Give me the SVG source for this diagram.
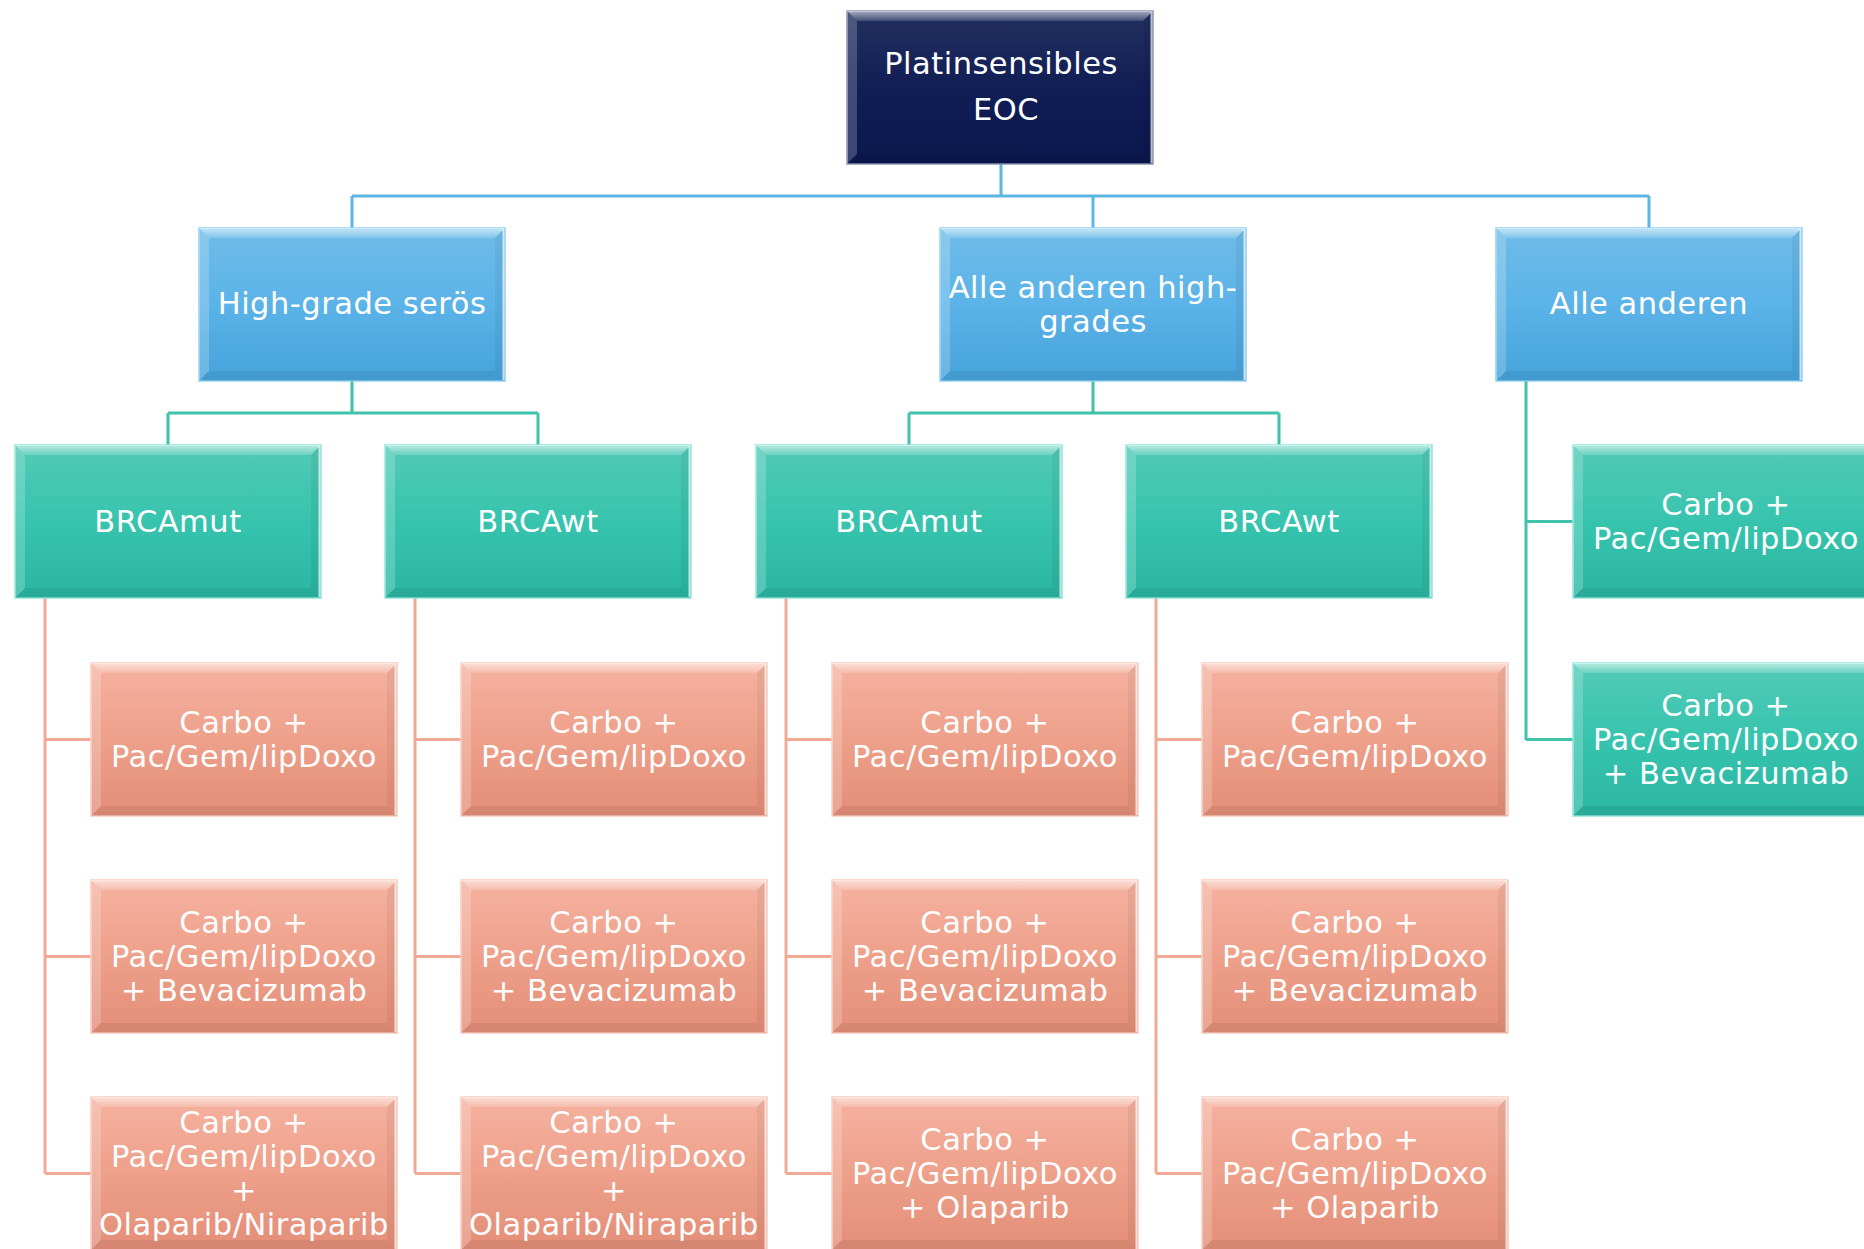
<svg xmlns="http://www.w3.org/2000/svg" xmlns:xlink="http://www.w3.org/1999/xlink" width="1864" height="1249" viewBox="0 0 1864 1249">
<defs>
<linearGradient id="gNavy" x1="0" y1="0" x2="0" y2="1"><stop offset="0" stop-color="#22305f"/><stop offset="0.5" stop-color="#111e55"/><stop offset="1" stop-color="#0b184e"/></linearGradient>
<linearGradient id="gBlue" x1="0" y1="0" x2="0" y2="1"><stop offset="0" stop-color="#6fbce8"/><stop offset="0.5" stop-color="#5bb3e8"/><stop offset="1" stop-color="#46a3db"/></linearGradient>
<linearGradient id="gGreen" x1="0" y1="0" x2="0" y2="1"><stop offset="0" stop-color="#52cab7"/><stop offset="0.5" stop-color="#37c4ae"/><stop offset="1" stop-color="#2ab6a2"/></linearGradient>
<linearGradient id="gSalmon" x1="0" y1="0" x2="0" y2="1"><stop offset="0" stop-color="#f5b2a0"/><stop offset="0.5" stop-color="#eea08a"/><stop offset="1" stop-color="#e38e78"/></linearGradient>
<linearGradient id="gTop" x1="0" y1="0" x2="0" y2="1"><stop offset="0" stop-color="#ffffff" stop-opacity="0.6"/><stop offset="1" stop-color="#ffffff" stop-opacity="0.15"/></linearGradient>
<g id="bevel">
<polygon points="0,0 306,0 296,10 10,10" fill="url(#gTop)"/>
<polygon points="0,0 10,10 10,143 0,153" fill="#ffffff" fill-opacity="0.2"/>
<polygon points="306,0 306,153 296,143 296,10" fill="#000000" fill-opacity="0.05"/>
<polygon points="0,153 10,143 296,143 306,153" fill="#000000" fill-opacity="0.06"/>
<line x1="304.5" y1="1" x2="304.5" y2="152" stroke="#ffffff" stroke-opacity="0.7" stroke-width="2"/>
</g>
</defs>
<style>
.t{font-family:"DejaVu Sans","Liberation Sans",sans-serif;font-size:30.5px;fill:#ffffff;text-anchor:middle;letter-spacing:0.5px}
.navy{fill:url(#gNavy);stroke:#8d96b3;stroke-width:1.5}
.blue{fill:url(#gBlue);stroke:#92d2f4;stroke-width:1.5}
.green{fill:url(#gGreen);stroke:#8fe8dc;stroke-width:1.5}
.salmon{fill:url(#gSalmon);stroke:#f9cbbd;stroke-width:1.5}
.cb{fill:none;stroke:#5cb5e3;stroke-width:3}
.cg{fill:none;stroke:#41c2aa;stroke-width:3}
.cs{fill:none;stroke:#f2a994;stroke-width:3}
</style>
<rect width="1864" height="1249" fill="#ffffff"/>
<g id="connectors">
<path class="cb" d="M1001,164 V196 M352,196 H1649 M352,196 V228 M1093,196 V228 M1649,196 V228"/>
<path class="cg" d="M352,381 V413 M168,413 H538 M168,413 V445 M538,413 V445"/>
<path class="cg" d="M1093,381 V413 M909,413 H1279 M909,413 V445 M1279,413 V445"/>
<path class="cg" d="M1526,381 V740 M1526,521.5 H1573 M1526,739.5 H1573"/>
<path class="cs" d="M45,598 V1173.5 M45,739.5 H91 M45,956.5 H91 M45,1173.5 H91"/>
<path class="cs" d="M415,598 V1173.5 M415,739.5 H461 M415,956.5 H461 M415,1173.5 H461"/>
<path class="cs" d="M786,598 V1173.5 M786,739.5 H832 M786,956.5 H832 M786,1173.5 H832"/>
<path class="cs" d="M1156,598 V1173.5 M1156,739.5 H1202 M1156,956.5 H1202 M1156,1173.5 H1202"/>
</g>
<g id="root" transform="translate(847,11)"><rect class="navy" width="306" height="153"/><use xlink:href="#bevel"/><text class="t" x="154" y="63">Platinsensibles</text><text class="t" x="159" y="109">EOC</text></g>
<g id="hgs" transform="translate(199,228)"><rect class="blue" width="306" height="153"/><use xlink:href="#bevel"/><text class="t" x="153" y="86">High-grade serös</text></g>
<g id="ahg" transform="translate(940,228)"><rect class="blue" width="306" height="153"/><use xlink:href="#bevel"/><text class="t" x="153" y="70">Alle anderen high-</text><text class="t" x="153" y="104">grades</text></g>
<g id="aa" transform="translate(1496,228)"><rect class="blue" width="306" height="153"/><use xlink:href="#bevel"/><text class="t" x="153" y="86">Alle anderen</text></g>
<g id="mut1" transform="translate(15,445)"><rect class="green" width="306" height="153"/><use xlink:href="#bevel"/><text class="t" x="153" y="87">BRCAmut</text></g>
<g id="wt1" transform="translate(385,445)"><rect class="green" width="306" height="153"/><use xlink:href="#bevel"/><text class="t" x="153" y="87">BRCAwt</text></g>
<g id="mut2" transform="translate(756,445)"><rect class="green" width="306" height="153"/><use xlink:href="#bevel"/><text class="t" x="153" y="87">BRCAmut</text></g>
<g id="wt2" transform="translate(1126,445)"><rect class="green" width="306" height="153"/><use xlink:href="#bevel"/><text class="t" x="153" y="87">BRCAwt</text></g>
<g id="aa1" transform="translate(1573,445)"><rect class="green" width="306" height="153"/><use xlink:href="#bevel"/><text class="t" x="153" y="70">Carbo +</text><text class="t" x="153" y="104">Pac/Gem/lipDoxo</text></g>
<g id="aa2" transform="translate(1573,663)"><rect class="green" width="306" height="153"/><use xlink:href="#bevel"/><text class="t" x="153" y="53">Carbo +</text><text class="t" x="153" y="87">Pac/Gem/lipDoxo</text><text class="t" x="153" y="121">+ Bevacizumab</text></g>
<g id="m1a" transform="translate(91,663)"><rect class="salmon" width="306" height="153"/><use xlink:href="#bevel"/><text class="t" x="153" y="70">Carbo +</text><text class="t" x="153" y="104">Pac/Gem/lipDoxo</text></g>
<g id="m1b" transform="translate(91,880)"><rect class="salmon" width="306" height="153"/><use xlink:href="#bevel"/><text class="t" x="153" y="53">Carbo +</text><text class="t" x="153" y="87">Pac/Gem/lipDoxo</text><text class="t" x="153" y="121">+ Bevacizumab</text></g>
<g id="m1c" transform="translate(91,1097)"><rect class="salmon" width="306" height="153"/><use xlink:href="#bevel"/><text class="t" x="153" y="36">Carbo +</text><text class="t" x="153" y="70">Pac/Gem/lipDoxo</text><text class="t" x="153" y="104">+</text><text class="t" x="153" y="138">Olaparib/Niraparib</text></g>
<g id="w1a" transform="translate(461,663)"><rect class="salmon" width="306" height="153"/><use xlink:href="#bevel"/><text class="t" x="153" y="70">Carbo +</text><text class="t" x="153" y="104">Pac/Gem/lipDoxo</text></g>
<g id="w1b" transform="translate(461,880)"><rect class="salmon" width="306" height="153"/><use xlink:href="#bevel"/><text class="t" x="153" y="53">Carbo +</text><text class="t" x="153" y="87">Pac/Gem/lipDoxo</text><text class="t" x="153" y="121">+ Bevacizumab</text></g>
<g id="w1c" transform="translate(461,1097)"><rect class="salmon" width="306" height="153"/><use xlink:href="#bevel"/><text class="t" x="153" y="36">Carbo +</text><text class="t" x="153" y="70">Pac/Gem/lipDoxo</text><text class="t" x="153" y="104">+</text><text class="t" x="153" y="138">Olaparib/Niraparib</text></g>
<g id="m2a" transform="translate(832,663)"><rect class="salmon" width="306" height="153"/><use xlink:href="#bevel"/><text class="t" x="153" y="70">Carbo +</text><text class="t" x="153" y="104">Pac/Gem/lipDoxo</text></g>
<g id="m2b" transform="translate(832,880)"><rect class="salmon" width="306" height="153"/><use xlink:href="#bevel"/><text class="t" x="153" y="53">Carbo +</text><text class="t" x="153" y="87">Pac/Gem/lipDoxo</text><text class="t" x="153" y="121">+ Bevacizumab</text></g>
<g id="m2c" transform="translate(832,1097)"><rect class="salmon" width="306" height="153"/><use xlink:href="#bevel"/><text class="t" x="153" y="53">Carbo +</text><text class="t" x="153" y="87">Pac/Gem/lipDoxo</text><text class="t" x="153" y="121">+ Olaparib</text></g>
<g id="w2a" transform="translate(1202,663)"><rect class="salmon" width="306" height="153"/><use xlink:href="#bevel"/><text class="t" x="153" y="70">Carbo +</text><text class="t" x="153" y="104">Pac/Gem/lipDoxo</text></g>
<g id="w2b" transform="translate(1202,880)"><rect class="salmon" width="306" height="153"/><use xlink:href="#bevel"/><text class="t" x="153" y="53">Carbo +</text><text class="t" x="153" y="87">Pac/Gem/lipDoxo</text><text class="t" x="153" y="121">+ Bevacizumab</text></g>
<g id="w2c" transform="translate(1202,1097)"><rect class="salmon" width="306" height="153"/><use xlink:href="#bevel"/><text class="t" x="153" y="53">Carbo +</text><text class="t" x="153" y="87">Pac/Gem/lipDoxo</text><text class="t" x="153" y="121">+ Olaparib</text></g>
</svg>
